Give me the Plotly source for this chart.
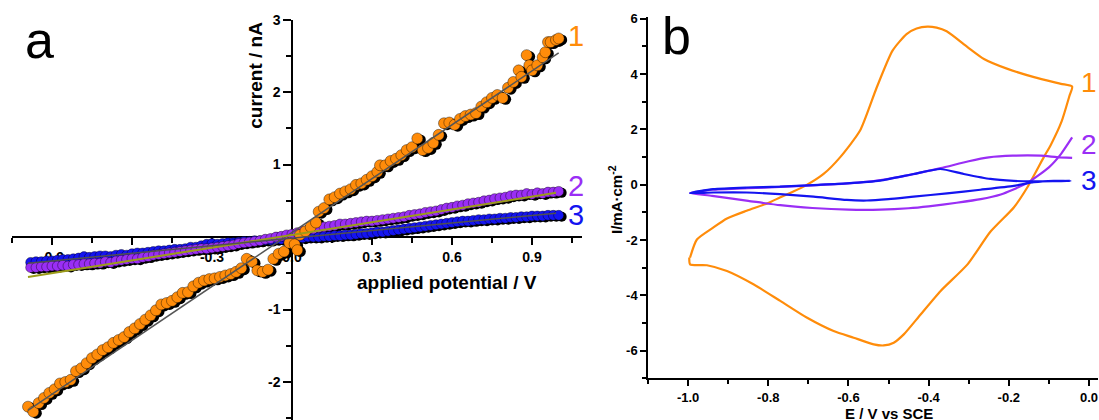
import plotly.graph_objects as go

# ---------------- Panel a data ----------------
orange_x = [-0.99, -0.97, -0.95, -0.93, -0.91, -0.89, -0.87, -0.85, -0.83, -0.81, -0.79, -0.77, -0.75, -0.73,
            -0.71, -0.69, -0.67, -0.65, -0.63, -0.61, -0.59, -0.57, -0.55, -0.53, -0.51, -0.49, -0.47, -0.45,
            -0.43, -0.41, -0.39, -0.37, -0.35, -0.33, -0.31, -0.29, -0.27, -0.25, -0.23, -0.21, -0.19, -0.17,
            -0.15, -0.13, -0.11, -0.09, -0.07, -0.05, -0.03, -0.01, 0.01, 0.02, 0.03, 0.05, 0.07, 0.09, 0.10,
            0.12, 0.14, 0.16, 0.18, 0.20, 0.22, 0.24, 0.26, 0.28, 0.30, 0.32, 0.33, 0.35, 0.37, 0.39, 0.41,
            0.43, 0.45, 0.47, 0.49, 0.51, 0.53, 0.55, 0.57, 0.59, 0.61, 0.63, 0.65, 0.67, 0.69, 0.71, 0.73,
            0.75, 0.77, 0.79, 0.81, 0.83, 0.85, 0.86, 0.88, 0.89, 0.90, 0.92, 0.94, 0.95, 0.96, 0.97, 0.99, 1.00]
orange_y = [-2.34, -2.41, -2.29, -2.22, -2.15, -2.10, -2.02, -2.00, -1.97, -1.85, -1.81, -1.74, -1.67, -1.62,
            -1.56, -1.52, -1.46, -1.42, -1.38, -1.31, -1.26, -1.20, -1.14, -1.08, -1.01, -0.93, -0.91, -0.88,
            -0.83, -0.77, -0.76, -0.68, -0.63, -0.60, -0.58, -0.57, -0.55, -0.53, -0.51, -0.48, -0.43, -0.30,
            -0.34, -0.46, -0.48, -0.45, -0.30, -0.23, -0.20, -0.08, -0.10, -0.18, 0.03, 0.08, 0.14, 0.20, 0.35,
            0.40, 0.52, 0.55, 0.60, 0.63, 0.66, 0.72, 0.74, 0.79, 0.84, 0.90, 0.99, 0.99, 1.05, 1.08, 1.13,
            1.20, 1.24, 1.36, 1.20, 1.23, 1.30, 1.41, 1.57, 1.58, 1.55, 1.63, 1.67, 1.69, 1.71, 1.80, 1.86,
            1.92, 1.96, 1.92, 2.06, 2.14, 2.30, 2.21, 2.51, 2.37, 2.30, 2.37, 2.48, 2.55, 2.69, 2.69, 2.72, 2.74]

potential_23 = [-0.98, -0.96, -0.94, -0.92, -0.90, -0.88, -0.86, -0.84, -0.82, -0.80, -0.78, -0.76, -0.74,
                -0.72, -0.70, -0.68, -0.66, -0.64, -0.62, -0.60, -0.58, -0.56, -0.54, -0.52, -0.50, -0.48,
                -0.46, -0.44, -0.42, -0.40, -0.38, -0.36, -0.34, -0.32, -0.30, -0.28, -0.26, -0.24, -0.22,
                -0.20, -0.18, -0.16, -0.14, -0.12, -0.10, -0.08, -0.06, -0.04, -0.02, 0.00, 0.02, 0.04, 0.06,
                0.08, 0.10, 0.12, 0.14, 0.16, 0.18, 0.20, 0.22, 0.24, 0.26, 0.28, 0.30, 0.32, 0.34, 0.36, 0.38,
                0.40, 0.42, 0.44, 0.46, 0.48, 0.50, 0.52, 0.54, 0.56, 0.58, 0.60, 0.62, 0.64, 0.66, 0.68, 0.70,
                0.72, 0.74, 0.76, 0.78, 0.80, 0.82, 0.84, 0.86, 0.88, 0.90, 0.92, 0.94, 0.96, 0.98, 1.00]
purple_y = [-0.42, -0.42, -0.41, -0.41, -0.40, -0.40, -0.39, -0.40, -0.38, -0.38, -0.37, -0.37, -0.36,
            -0.36, -0.34, -0.35, -0.33, -0.32, -0.31, -0.30, -0.30, -0.28, -0.27, -0.25, -0.24, -0.23,
            -0.22, -0.21, -0.20, -0.19, -0.18, -0.17, -0.16, -0.16, -0.15, -0.14, -0.13, -0.12, -0.11,
            -0.09, -0.08, -0.07, -0.06, -0.05, -0.03, -0.02, 0.00, 0.01, 0.03, 0.04, 0.06, 0.08, 0.10,
            0.11, 0.13, 0.14, 0.15, 0.16, 0.18, 0.18, 0.19, 0.20, 0.21, 0.22, 0.22, 0.23, 0.24, 0.25, 0.26,
            0.27, 0.28, 0.30, 0.31, 0.32, 0.34, 0.35, 0.36, 0.38, 0.40, 0.41, 0.43, 0.44, 0.46, 0.47, 0.48,
            0.50, 0.51, 0.53, 0.54, 0.55, 0.57, 0.58, 0.58, 0.60, 0.59, 0.61, 0.60, 0.62, 0.62, 0.63]
blue_y = [-0.35, -0.34, -0.34, -0.33, -0.33, -0.32, -0.31, -0.31, -0.30, -0.29, -0.27, -0.28, -0.27,
          -0.26, -0.26, -0.27, -0.25, -0.24, -0.25, -0.23, -0.22, -0.22, -0.21, -0.20, -0.19, -0.19,
          -0.18, -0.17, -0.17, -0.16, -0.14, -0.14, -0.12, -0.10, -0.09, -0.10, -0.09, -0.08, -0.08,
          -0.07, -0.06, -0.06, -0.05, -0.05, -0.04, -0.04, -0.03, -0.03, -0.02, -0.02, -0.01, -0.01, 0.00,
          0.00, 0.00, 0.01, 0.01, 0.02, 0.02, 0.03, 0.03, 0.04, 0.05, 0.05, 0.06, 0.07, 0.07, 0.08, 0.09,
          0.10, 0.11, 0.12, 0.13, 0.14, 0.15, 0.16, 0.17, 0.18, 0.19, 0.20, 0.21, 0.22, 0.22, 0.23, 0.24,
          0.24, 0.25, 0.25, 0.26, 0.26, 0.27, 0.27, 0.28, 0.28, 0.29, 0.29, 0.29, 0.30, 0.30, 0.30]

# linear fit lines (end points)
fit1_x = [-0.99, 1.00]
fit1_y = [-2.39, 2.54]
fit2_x = [-0.99, 0.99]
fit2_y = [-0.55, 0.61]
fit3_x = [-0.99, 0.99]
fit3_y = [-0.36, 0.33]

# tick labels
a_xtick_vals = [-0.9, -0.6, -0.3, 0.0, 0.3, 0.6, 0.9]
a_xtick_text = ["-0.9", "-0.6", "-0.3", "0.0", "0.3", "0.6", "0.9"]
a_ytick_vals = [-2, -1, 0, 1, 2, 3]
a_ytick_text = ["-2", "-1", "0", "1", "2", "3"]
b_xtick_vals = [-1.0, -0.8, -0.6, -0.4, -0.2, 0.0]
b_xtick_text = ["-1.0", "-0.8", "-0.6", "-0.4", "-0.2", "0.0"]
b_ytick_vals = [-6, -4, -2, 0, 2, 4, 6]
b_ytick_text = ["-6", "-4", "-2", "0", "2", "4", "6"]

# ---------------- Panel b data (cyclic voltammograms) ----------------
cv1_E = [-0.995, -0.978, -0.9375, -0.903, -0.854, -0.80, -0.771, -0.74, -0.708, -0.662, -0.621, -0.571,
         -0.53, -0.49, -0.455, -0.43, -0.403, -0.38, -0.355, -0.303, -0.262, -0.203, -0.137, -0.07, -0.042,
         -0.049, -0.068, -0.095, -0.113, -0.154, -0.1875, -0.246, -0.303, -0.37, -0.42, -0.462, -0.487,
         -0.512, -0.537, -0.587, -0.637, -0.703, -0.77, -0.837, -0.903, -0.953, -0.995, -0.997]
cv1_I = [-2.63, -1.98, -1.55, -1.22, -0.94, -0.66, -0.46, -0.26, -0.04, 0.39, 0.99, 1.96,
         3.50, 4.85, 5.45, 5.65, 5.72, 5.68, 5.55, 4.98, 4.55, 4.19, 3.89, 3.65, 3.55,
         3.20, 2.30, 1.45, 0.99, -0.10, -0.82, -1.70, -2.88, -3.84, -4.69, -5.41, -5.71,
         -5.81, -5.77, -5.53, -5.29, -4.81, -4.20, -3.60, -3.12, -2.91, -2.88, -2.63]

cv2_E = [-0.042, -0.08, -0.12, -0.19, -0.25, -0.30, -0.37, -0.45, -0.52, -0.60, -0.69, -0.77, -0.85,
         -0.94, -0.995, -0.94, -0.85, -0.77, -0.69, -0.60, -0.52, -0.45, -0.40, -0.33, -0.27, -0.22,
         -0.19, -0.15, -0.10, -0.07, -0.042]
cv2_I = [0.97, 1.00, 1.05, 1.05, 0.99, 0.85, 0.60, 0.35, 0.17, 0.05, -0.02, -0.08, -0.12,
         -0.18, -0.30, -0.40, -0.58, -0.74, -0.84, -0.90, -0.90, -0.85, -0.78, -0.65, -0.52, -0.35,
         -0.18, 0.10, 0.63, 1.11, 1.71]

cv3_E = [-0.995, -0.9375, -0.854, -0.771, -0.687, -0.604, -0.521, -0.4375, -0.371, -0.3125, -0.246,
         -0.1875, -0.146, -0.046, -0.0875, -0.1375, -0.1875, -0.271, -0.354, -0.4375, -0.50, -0.554,
         -0.604, -0.687, -0.771, -0.854, -0.9375, -0.995]
cv3_I = [-0.30, -0.16, -0.10, -0.07, -0.01, 0.05, 0.15, 0.39, 0.57, 0.39, 0.21,
         0.14, 0.12, 0.14, 0.14, 0.09, -0.04, -0.18, -0.31, -0.43, -0.52, -0.57,
         -0.55, -0.43, -0.34, -0.28, -0.28, -0.30]

ORANGE = "#FF8C0A"
PURPLE = "#9A2EF5"
BLUE = "#1414F0"
FONT = "Arial, Liberation Sans, sans-serif"

W, H = 1099, 420


def vy(p):
    """map a target vertical pixel to the layout pixel (empirical capture correction)"""
    return (p - 8.4) / 0.979


# panel a geometry (pixels)
ax_l, ax_r = 12, 582
xa_range = [-1.05, 1.0875]
px_per_x = (ax_r - ax_l) / (xa_range[1] - xa_range[0])
y3_lay, y0_lay = vy(20), vy(237)          # where value 3 and value 0 should sit
px_per_y = (y0_lay - y3_lay) / 3.0
ay_t, ay_b = y3_lay, H
ya_range = [3.0 - (ay_b - ay_t) / px_per_y, 3.0]
x0_px = ax_l + (0 - xa_range[0]) * px_per_x
y0_px = y0_lay

# shadow offset (pixels) for the half-black marker look
sh_dx, sh_dy = 3.0, 1.5
shadow_xrange = [xa_range[0] - sh_dx / px_per_x, xa_range[1] - sh_dx / px_per_x]
shadow_yrange = [ya_range[0] + sh_dy / px_per_y, ya_range[1] + sh_dy / px_per_y]

fig = go.Figure()

# empty trace so that the visible (axis-only) panel a subplot is created
fig.add_trace(go.Scatter(x=[], y=[], mode="markers", xaxis="x", yaxis="y", showlegend=False, hoverinfo="skip"))

def shadow(x, y, size):
    fig.add_trace(go.Scatter(x=x, y=y, mode="markers", marker=dict(color="black", size=size, line=dict(width=0)),
                             xaxis="x3", yaxis="y3", showlegend=False, hoverinfo="skip"))

def dots(x, y, color, size):
    fig.add_trace(go.Scatter(x=x, y=y, mode="markers",
                             marker=dict(color=color, size=size, line=dict(color="black", width=0.4)),
                             xaxis="x4", yaxis="y4", showlegend=False))

# shadows (all series), then coloured markers on top
shadow(potential_23, blue_y, 10)
shadow(potential_23, purple_y, 10)
shadow(orange_x, orange_y, 11)
dots(potential_23, blue_y, BLUE, 10)
dots(potential_23, purple_y, PURPLE, 10)
dots(orange_x, orange_y, ORANGE, 11)

fig.add_trace(go.Scatter(x=fit1_x, y=fit1_y, mode="lines", line=dict(color="#555555", width=1.5),
                         xaxis="x4", yaxis="y4", showlegend=False))
fig.add_trace(go.Scatter(x=fit2_x, y=fit2_y, mode="lines", line=dict(color="#9C9C1A", width=2),
                         xaxis="x4", yaxis="y4", showlegend=False))
fig.add_trace(go.Scatter(x=fit3_x, y=fit3_y, mode="lines", line=dict(color="#505050", width=1.5),
                         xaxis="x4", yaxis="y4", showlegend=False))

fig.add_trace(go.Scatter(x=cv1_E, y=cv1_I, mode="lines", line=dict(color=ORANGE, width=2.2, shape="spline", smoothing=0.6),
                         xaxis="x2", yaxis="y2", showlegend=False))
fig.add_trace(go.Scatter(x=cv2_E, y=cv2_I, mode="lines", line=dict(color=PURPLE, width=2.2, shape="spline", smoothing=0.6),
                         xaxis="x2", yaxis="y2", showlegend=False))
fig.add_trace(go.Scatter(x=cv3_E, y=cv3_I, mode="lines", line=dict(color=BLUE, width=2.2, shape="spline", smoothing=0.6),
                         xaxis="x2", yaxis="y2", showlegend=False))

tickfont_a = dict(family=FONT, size=14, color="black", weight="bold")
tickfont_b = dict(family=FONT, size=13, color="black", weight="bold")

xdom_a = [ax_l / W, ax_r / W]
ydom_a = [1 - ay_b / H, 1 - ay_t / H]
ydom_b = [1 - vy(378) / H, 1 - vy(17) / H]

hidden = dict(visible=False, showgrid=False, zeroline=False, fixedrange=True)
minor_style = dict(ticks="outside", tickwidth=1.5, tickcolor="black")

fig.update_layout(
    width=W, height=H,
    margin=dict(l=0, r=0, t=0, b=0),
    paper_bgcolor="white", plot_bgcolor="rgba(0,0,0,0)",
    hovermode=False,
    xaxis=dict(domain=xdom_a, range=xa_range, anchor="free",
               position=(H - y0_px) / H, showgrid=False, zeroline=False,
               showline=True, linecolor="black", linewidth=1.5,
               ticks="outside", ticklen=7, tickwidth=1.5, tickcolor="black",
               tickmode="array", tickvals=a_xtick_vals, ticktext=a_xtick_text, tickfont=tickfont_a,
               minor=dict(dtick=0.15, tick0=0, ticklen=5, **minor_style),
               layer="below traces"),
    yaxis=dict(domain=ydom_a, range=ya_range, anchor="free",
               position=x0_px / W, showgrid=False, zeroline=False,
               showline=True, linecolor="black", linewidth=1.5,
               ticks="outside", ticklen=8, tickwidth=1.5, tickcolor="black",
               tickmode="array", tickvals=a_ytick_vals, ticktext=a_ytick_text, tickfont=tickfont_a,
               minor=dict(dtick=0.5, tick0=0, ticklen=5, **minor_style),
               layer="below traces"),
    xaxis3=dict(overlaying="x", anchor="y3", domain=xdom_a, range=shadow_xrange, **hidden),
    yaxis3=dict(overlaying="y", anchor="x3", domain=ydom_a, range=shadow_yrange, **hidden),
    xaxis4=dict(overlaying="x", anchor="y4", domain=xdom_a, range=xa_range, **hidden),
    yaxis4=dict(overlaying="y", anchor="x4", domain=ydom_a, range=ya_range, **hidden),
    xaxis2=dict(domain=[648 / W, 1098 / W], range=[-1.1, 0.0225], anchor="y2",
                showgrid=False, zeroline=False, showline=True, linecolor="black", linewidth=1.5,
                ticks="outside", ticklen=6, tickwidth=1.5, tickcolor="black",
                tickmode="array", tickvals=b_xtick_vals, ticktext=b_xtick_text, tickfont=tickfont_b,
                minor=dict(dtick=0.1, tick0=0, ticklen=4, **minor_style)),
    yaxis2=dict(domain=ydom_b, range=[-7, 6.08], anchor="x2",
                showgrid=False, zeroline=False, showline=True, linecolor="black", linewidth=1.5,
                ticks="outside", ticklen=6, tickwidth=1.5, tickcolor="black",
                tickmode="array", tickvals=b_ytick_vals, ticktext=b_ytick_text, tickfont=tickfont_b,
                minor=dict(dtick=1, tick0=0, ticklen=4, **minor_style)),
)

def ann(text, px, py, size, color="black", bold=False, angle=0, xanchor="center", yanchor="middle"):
    fig.add_annotation(text=text, x=px / W, y=1 - vy(py) / H, xref="paper", yref="paper",
                       showarrow=False, textangle=angle, xanchor=xanchor, yanchor=yanchor,
                       font=dict(family=FONT, size=size, color=color, weight="bold" if bold else "normal"))

ann("a", 39, 40, 52)
ann("b", 676, 36, 52)
ann("current / nA", 256, 76, 19, bold=True, angle=-90)
ann("applied potential / V", 447, 282, 19, bold=True)
ann("I/mA·cm<sup>-2</sup>", 616, 200, 15, bold=True, angle=-90)
ann("E / V vs SCE", 889, 413, 15, bold=True)

ann("1", 566, 36, 29, color=ORANGE, xanchor="left")
ann("2", 566, 186, 29, color=PURPLE, xanchor="left")
ann("3", 566, 215, 29, color=BLUE, xanchor="left")
ann("1", 1079, 83, 28, color=ORANGE, xanchor="left")
ann("2", 1079, 145, 28, color=PURPLE, xanchor="left")
ann("3", 1079, 181, 28, color=BLUE, xanchor="left")

post = ("document.documentElement.style.margin='0';document.documentElement.style.overflow='hidden';"
        "document.body.style.margin='0';document.body.style.overflow='hidden';"
        "var d=document.getElementById('{plot_id}');d.style.position='fixed';d.style.top='0px';d.style.left='0px';")
fig.write_html("out.html", config={"displayModeBar": False}, post_script=post)
